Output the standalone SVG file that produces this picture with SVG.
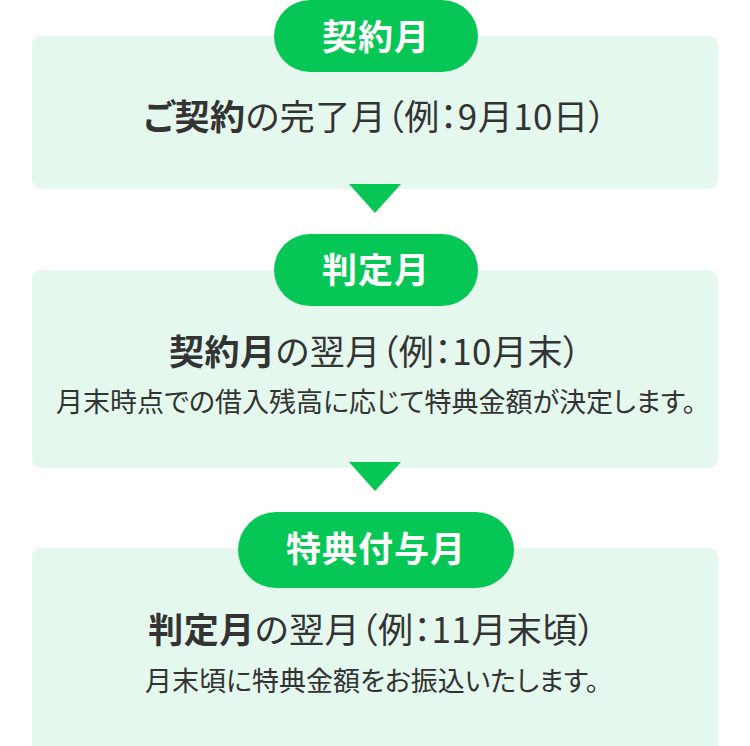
<svg xmlns="http://www.w3.org/2000/svg" width="750" height="746" viewBox="0 0 750 746">
<style>
.box{fill:#e4f8ed}
.pill{fill:#06c755}
.arrow{fill:#06c755}
text{font-family:"Noto Sans CJK JP",sans-serif;text-anchor:middle;font-feature-settings:"palt"}
.pt{font-weight:700;font-size:35px;fill:#ffffff;letter-spacing:1px}
.mt{font-weight:400;font-size:35px;fill:#333333;letter-spacing:0.5px}
.mt .b{font-weight:700}
.st{font-weight:400;font-size:27px;fill:#333333}
</style>
<rect width="750" height="746" fill="#ffffff"/>
<g id="node-contract">
<rect class="box" x="32" y="36" width="686" height="153" rx="9"/>
<rect class="pill" x="274" y="0" width="204" height="72" rx="36"/>
<text class="pt" x="376" y="50">契約月</text>
<text class="mt" x="375" y="130"><tspan class="b">ご契約</tspan>の完了月（例：9月10日）</text>
</g>
<g id="node-judge">
<rect class="box" x="32" y="270" width="686" height="198" rx="9"/>
<rect class="pill" x="274" y="234" width="204" height="72" rx="36"/>
<text class="pt" x="376" y="283">判定月</text>
<text class="mt" x="375" y="365"><tspan class="b">契約月</tspan>の翌月（例：10月末）</text>
<text class="st" x="376" y="412">月末時点での借入残高に応じて特典金額が決定します。</text>
</g>
<g id="node-grant">
<rect class="box" x="32" y="548" width="686" height="210" rx="9"/>
<rect class="pill" x="238" y="512" width="276" height="76" rx="38"/>
<text class="pt" x="376" y="562">特典付与月</text>
<text class="mt" x="372" y="643"><tspan class="b">判定月</tspan>の翌月（例：11月末頃）</text>
<text class="st" x="372" y="691">月末頃に特典金額をお振込いたします。</text>
</g>
<g id="connectors">
<polygon class="arrow" points="349,184 401,184 375,213"/>
<polygon class="arrow" points="349,462 401,462 375,491"/>
</g>
</svg>
